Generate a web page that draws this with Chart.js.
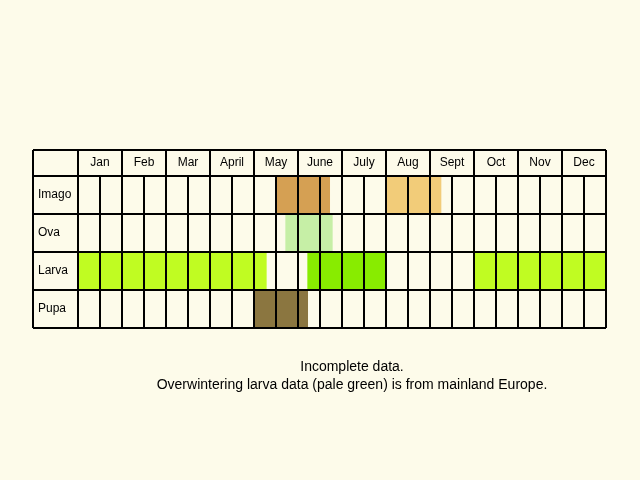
<!DOCTYPE html>
<html>
<head>
<meta charset="utf-8">
<script src="https://cdn.jsdelivr.net/npm/chart.js@4"></script>
<style>
  html, body { margin: 0; background: #fdfbea; }
  #wrap { width: 640px; height: 480px; }
</style>
</head>
<body>
<div id="wrap"><canvas id="chart"></canvas></div>
<script>
// months on x axis (0..12), rows on y
const months = ["Jan", "Feb", "Mar", "April", "May", "June", "July", "Aug", "Sept", "Oct", "Nov", "Dec"];
const stages = ["Imago", "Ova", "Larva", "Pupa"];

// [start, end] in months, one entry per stage row
const imagoEarly = [[4.5, 5.72], null, null, null];
const imagoLate = [[7.0, 8.25], null, null, null];
const ovaSpan = [null, [4.72, 5.78], null, null];
const larvaWinter = [null, null, [0, 4.28], null];
const larvaWinter2 = [null, null, [9.0, 12], null];
const larvaSummer = [null, null, [5.22, 7.0], null];
const pupaSpan = [null, null, null, [4.0, 5.22]];

const captionLines = ["Incomplete data.", "Overwintering larva data (pale green) is from mainland Europe."];

const ds = (data, color) => ({ data, backgroundColor: color, barPercentage: 1, categoryPercentage: 1, borderWidth: 0 });

const tablePlugin = {
  id: "table",
  afterDatasetsDraw(chart) {
    const ctx = chart.ctx;
    const x = chart.scales.x, y = chart.scales.y;
    const top = chart.chartArea.top, bottom = chart.chartArea.bottom;
    const left = chart.chartArea.left, right = chart.chartArea.right;
    const headTop = top - 26, tableLeft = 33;
    ctx.save();
    ctx.strokeStyle = "#000";
    ctx.lineWidth = 2;
    ctx.beginPath();
    // horizontal lines
    [headTop, top].forEach(v => { ctx.moveTo(tableLeft, v); ctx.lineTo(right, v); });
    stages.forEach((s, i) => {
      const b = y.getPixelForValue(i) + (y.getPixelForValue(1) - y.getPixelForValue(0)) / 2;
      ctx.moveTo(tableLeft, b); ctx.lineTo(right, b);
    });
    // vertical lines
    ctx.moveTo(tableLeft, headTop); ctx.lineTo(tableLeft, bottom);
    for (let m = 0; m <= 12; m += 0.5) {
      const px = x.getPixelForValue(m);
      const full = Number.isInteger(m);
      ctx.moveTo(px, full ? headTop : top); ctx.lineTo(px, bottom);
    }
    ctx.stroke();
    ctx.fillStyle = "#000";
    ctx.font = "12px 'Liberation Sans', Arial, sans-serif";
    ctx.textBaseline = "middle";
    ctx.textAlign = "center";
    months.forEach((m, i) => ctx.fillText(m, x.getPixelForValue(i + 0.5), headTop + 13));
    ctx.textAlign = "left";
    stages.forEach((s, i) => ctx.fillText(s, 38, y.getPixelForValue(i)));
    ctx.font = "14px 'Liberation Sans', Arial, sans-serif";
    ctx.textAlign = "center";
    ctx.fillText(captionLines[0], 352, 367);
    ctx.fillText(captionLines[1], 352, 385);
    ctx.restore();
  }
};

new Chart(document.getElementById("chart"), {
  type: "bar",
  data: {
    labels: stages,
    datasets: [
      ds(imagoEarly, "#d5a053"),
      ds(imagoLate, "#f2cc79"),
      ds(ovaSpan, "#c6efa6"),
      ds(larvaWinter, "#c0fc22"),
      ds(larvaWinter2, "#c0fc22"),
      ds(larvaSummer, "#88ec00"),
      ds(pupaSpan, "#8b7640"),
    ],
  },
  options: {
    indexAxis: "y",
    responsive: true,
    maintainAspectRatio: false,
    animation: false,
    layout: { padding: { left: 78, right: 34, top: 176, bottom: 152 } },
    plugins: { legend: { display: false }, tooltip: { enabled: false } },
    scales: {
      x: { type: "linear", min: 0, max: 12, display: false },
      y: { type: "category", stacked: true, display: false },
    },
  },
  plugins: [tablePlugin],
});
</script>
</body>
</html>
